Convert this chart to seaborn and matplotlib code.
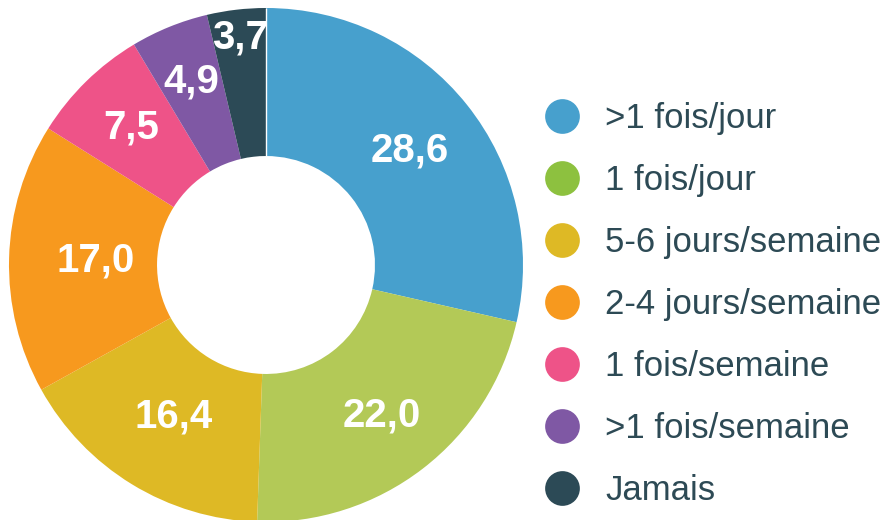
import matplotlib
matplotlib.use("Agg")
import matplotlib.pyplot as plt
import seaborn as sns
import numpy as np
from matplotlib.lines import Line2D

categories = [">1 fois/jour", "1 fois/jour", "5-6 jours/semaine", "2-4 jours/semaine",
              "1 fois/semaine", ">1 fois/semaine", "Jamais"]
values = [28.6, 22.0, 16.4, 17.0, 7.5, 4.9, 3.7]
value_labels = ["28,6", "22,0", "16,4", "17,0", "7,5", "4,9", "3,7"]

slice_colors = ["#47A0CD", "#B3C957", "#DEB925", "#F7991E", "#EE5388", "#7F58A4", "#2C4A56"]
legend_colors = ["#47A0CD", "#8DC13F", "#DEB925", "#F7991E", "#EE5388", "#7F58A4", "#2C4A56"]
label_radius = [0.716, 0.74, 0.69, 0.665, 0.75, 0.77, 0.89]

sns.set_theme(style="white")
plt.rcParams['font.family'] = ['Liberation Sans', 'DejaVu Sans']

fig = plt.figure(figsize=(8.85, 5.2), dpi=100)
ax = fig.add_axes([9/885, -2/520, 514/885, 514/520])
wedges, _ = ax.pie(values, colors=slice_colors, startangle=90, counterclock=False,
                   radius=1.0, wedgeprops=dict(width=0.576, edgecolor="none", linewidth=0))
ax.set_xlim(-1, 1)
ax.set_ylim(-1, 1)
ax.set_aspect("equal")
ax.axis("off")
# thin white separator at the start angle (top)
ax.plot([0, 0], [0.424, 1.0], color="white", lw=1.0, solid_capstyle="butt")

for w, lab, r in zip(wedges, value_labels, label_radius):
    ang = np.deg2rad((w.theta1 + w.theta2) / 2)
    ax.text(r * np.cos(ang), r * np.sin(ang), lab, ha="center", va="center",
            color="white", fontsize=29, fontweight="bold")

handles = [Line2D([], [], marker="o", ls="", markersize=25, markerfacecolor=c,
                  markeredgecolor="none") for c in legend_colors]
leg = fig.legend(handles, categories, loc="upper left", bbox_to_anchor=(545/885, 1 - 102/520),
                 frameon=False, fontsize=25, handlelength=1.0, handletextpad=0.73,
                 labelspacing=0.835, borderpad=0, borderaxespad=0)
for t in leg.get_texts():
    t.set_color("#2D4A55")

fig.savefig("out.png", dpi=100)
